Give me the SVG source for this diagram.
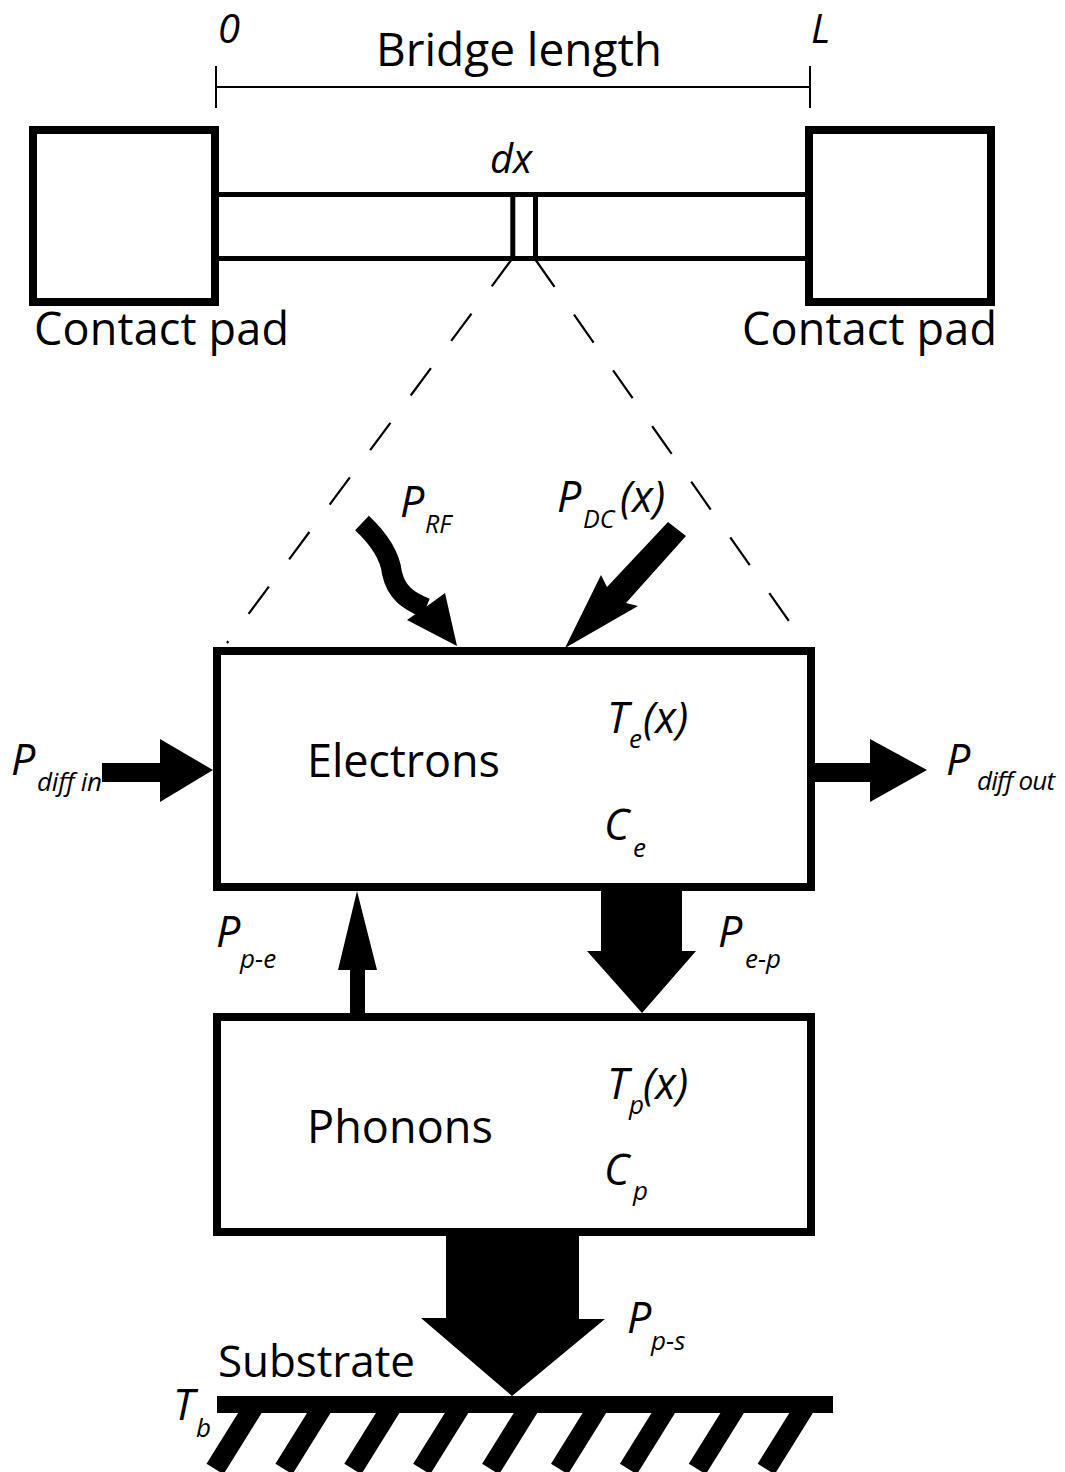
<svg xmlns="http://www.w3.org/2000/svg" width="1065" height="1472" viewBox="0 0 1065 1472">
<style>
.box{fill:none;stroke:#000;stroke-width:8}
.br{stroke:#000;stroke-width:5;fill:none}
.thin{stroke:#000;stroke-width:2;fill:none}
.dash{stroke:#000;stroke-width:2.2;fill:none;stroke-dasharray:34 34}
.ar{fill:#000;stroke:none}
.hatch{stroke:#000;stroke-width:20;stroke-linecap:butt}
text{font-family:"Open Sans","Liberation Sans",sans-serif;fill:#000}
.big{font-size:45px}
.it{font-style:italic;font-size:43px}
.sub{font-style:italic;font-size:26px}
</style>
<rect width="1065" height="1472" fill="#fff"/>

<g id="dimension">
  <line class="thin" x1="216" y1="87" x2="810" y2="87"/>
  <line class="thin" x1="216" y1="66" x2="216" y2="108"/>
  <line class="thin" x1="810" y1="66" x2="810" y2="108"/>
  <text x="218" y="43" style="font-style:italic;font-size:40px">0</text>
  <text x="811" y="43" style="font-style:italic;font-size:40px">L</text>
  <text x="376" y="66" style="font-size:46px" textLength="286">Bridge length</text>
</g>

<g id="pad-left">
  <rect class="box" x="33" y="130" width="182" height="172"/>
  <text class="big" x="34" y="345" textLength="255">Contact pad</text>
</g>
<g id="pad-right">
  <rect class="box" x="809" y="130" width="182" height="172"/>
  <text class="big" x="742" y="345" textLength="255">Contact pad</text>
</g>

<g id="bridge">
  <line class="br" x1="219" y1="194.5" x2="805" y2="194.5"/>
  <line class="br" x1="219" y1="258.5" x2="805" y2="258.5"/>
  <line class="br" x1="512.8" y1="194.5" x2="512.8" y2="258.5"/>
  <line class="br" x1="535.5" y1="194.5" x2="535.5" y2="258.5"/>
  <text x="490" y="173" style="font-style:italic;font-size:40px">dx</text>
</g>

<g id="electrons">
  <rect class="box" x="217" y="651" width="594" height="236"/>
  <text class="big" x="307" y="777" textLength="193">Electrons</text>
  <text class="it" x="607" y="733">T</text><text class="sub" x="629" y="748">e</text><text class="it" x="643" y="733">(x)</text>
  <text class="it" x="604" y="840">C</text><text class="sub" x="633" y="857">e</text>
</g>

<g id="phonons">
  <rect class="box" x="217" y="1017" width="594" height="215"/>
  <text class="big" x="307" y="1143" textLength="186">Phonons</text>
  <text class="it" x="607" y="1099">T</text><text class="sub" x="629" y="1114">p</text><text class="it" x="643" y="1099">(x)</text>
  <text class="it" x="604" y="1185">C</text><text class="sub" x="633" y="1200">p</text>
</g>

<g id="substrate">
  <rect x="217" y="1396" width="616" height="17" fill="#000"/>
  <line class="hatch" x1="253" y1="1408" x2="215" y2="1469"/>
  <line class="hatch" x1="321.9" y1="1408" x2="283.9" y2="1469"/>
  <line class="hatch" x1="390.8" y1="1408" x2="352.8" y2="1469"/>
  <line class="hatch" x1="459.7" y1="1408" x2="421.7" y2="1469"/>
  <line class="hatch" x1="528.6" y1="1408" x2="490.6" y2="1469"/>
  <line class="hatch" x1="597.5" y1="1408" x2="559.5" y2="1469"/>
  <line class="hatch" x1="666.4" y1="1408" x2="628.4" y2="1469"/>
  <line class="hatch" x1="735.3" y1="1408" x2="697.3" y2="1469"/>
  <line class="hatch" x1="804.2" y1="1408" x2="766.2" y2="1469"/>
  <text x="218" y="1377" style="font-size:44px" textLength="197">Substrate</text>
  <text class="it" x="173" y="1420">T</text><text class="sub" x="196" y="1437">b</text>
</g>

<g id="connectors">
  <line class="dash" x1="512" y1="259" x2="227" y2="643"/>
  <line class="dash" x1="535" y1="259" x2="791" y2="624"/>

  <path d="M362,523 C380,540 390,556 392,573 C396,592 408,601 426,608" fill="none" stroke="#000" stroke-width="20"/>
  <polygon class="ar" points="407,620 457,646 445,593 430,604"/>

  <polygon class="ar" points="668,522 607,587 601,575 565,648 638,606 626,603 686,536"/>

  <polygon class="ar" points="102,763 160,763 160,739 213,770 160,802 160,782 102,782"/>
  <polygon class="ar" points="815,763 870,763 870,739 927,770 870,802 870,782 815,782"/>

  <polygon class="ar" points="350,1013 350,970 338,970 357,891 377,970 365,970 365,1013"/>
  <polygon class="ar" points="601,887 682,887 682,951 696,951 642,1013 587,951 601,951"/>

  <polygon class="ar" points="446,1232 579,1232 579,1319 605,1319 512,1396 421,1318 446,1318"/>
</g>

<g id="labels">
  <text class="it" x="400" y="517">P</text><text class="sub" x="425" y="533" style="font-size:25px">RF</text>
  <text class="it" x="557" y="512">P</text><text class="sub" x="583" y="528" style="font-size:25px">DC</text><text class="it" x="620" y="512">(x)</text>
  <text class="it" x="11" y="775">P</text><text class="sub" x="37" y="791" textLength="65">diff in</text>
  <text class="it" x="946" y="775">P</text><text class="sub" x="977" y="790" textLength="78">diff out</text>
  <text class="it" x="216" y="947">P</text><text class="sub" x="240" y="968">p-e</text>
  <text class="it" x="718" y="947">P</text><text class="sub" x="745" y="968">e-p</text>
  <text class="it" x="627" y="1333">P</text><text class="sub" x="651" y="1350">p-s</text>
</g>
</svg>
